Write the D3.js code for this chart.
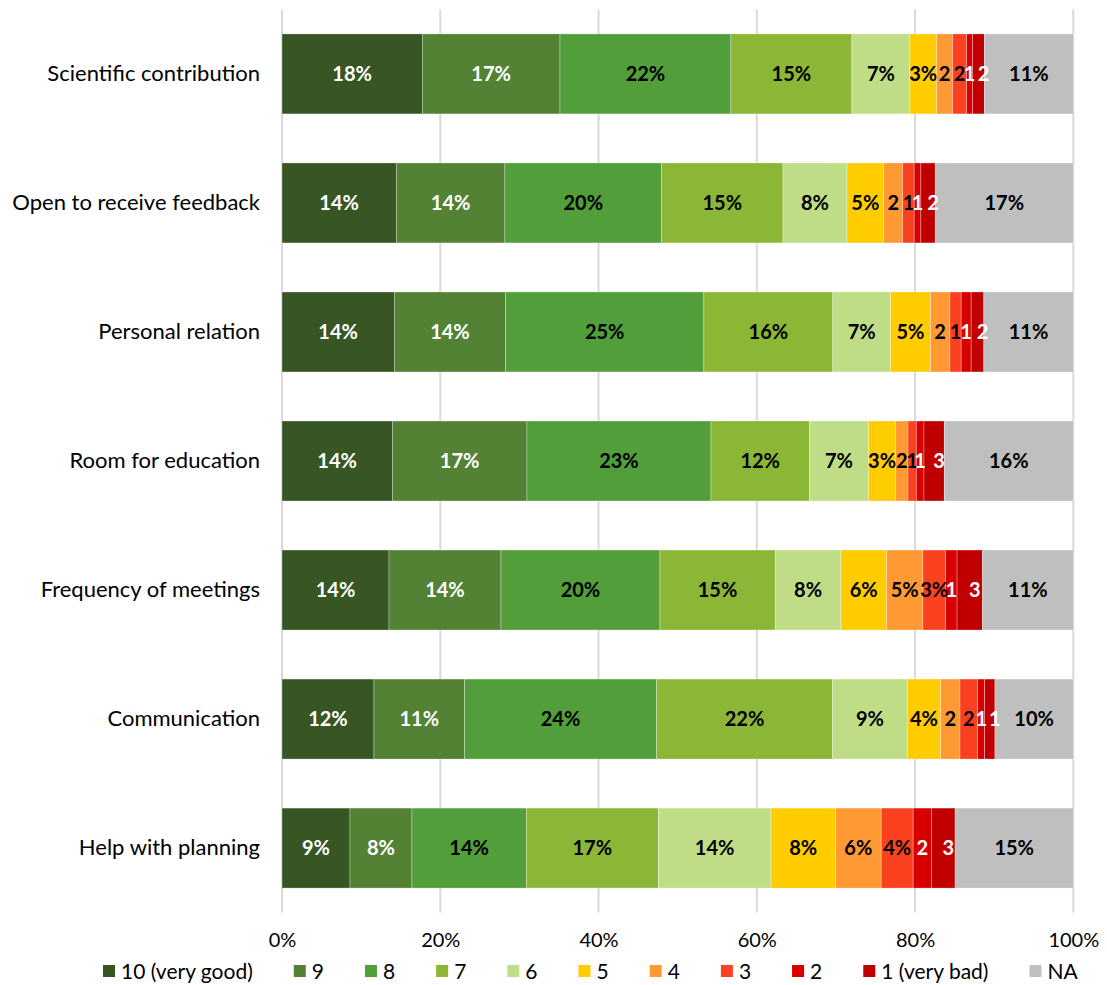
<!DOCTYPE html>
<html>
<head>
<meta charset="utf-8">
<script src="https://cdn.jsdelivr.net/npm/d3@7"></script>
<style>
  html, body { margin: 0; padding: 0; background: #fff; }
  svg { display: block; font-family: "Lato", "Open Sans", sans-serif; }
</style>
</head>
<body>
<svg id="chart" width="1107" height="985"></svg>
<script>
// Supervision survey: share of answers per rating, per aspect (percent)
const categories = [
  "Scientific contribution",
  "Open to receive feedback",
  "Personal relation",
  "Room for education",
  "Frequency of meetings",
  "Communication",
  "Help with planning"
];

const ratings = ["10 (very good)", "9", "8", "7", "6", "5", "4", "3", "2", "1 (very bad)", "NA"];

const r10 = [17.73, 14.44, 14.19, 13.94, 13.52, 11.62, 8.59];
const r9  = [17.40, 13.73, 14.07, 17.02, 14.15, 11.45, 7.83];
const r8  = [21.60, 19.81, 25.05, 23.25, 20.09, 24.26, 14.45];
const r7  = [15.29, 15.33, 16.30, 12.45, 14.57, 22.24, 16.68];
const r6  = [7.33, 8.09, 7.29, 7.45, 8.30, 9.45, 14.24];
const r5  = [3.37, 4.64, 5.05, 3.45, 5.77, 4.22, 8.16];
const r4  = [2.02, 2.40, 2.45, 1.55, 4.59, 2.44, 5.77];
const r3  = [1.77, 1.45, 1.43, 1.05, 2.87, 2.24, 4.04];
const r2  = [0.76, 0.85, 1.26, 0.97, 1.45, 0.88, 2.31];
const r1  = [1.50, 1.81, 1.60, 2.56, 3.21, 1.30, 2.99];
const rNA = [11.23, 17.45, 11.31, 16.31, 11.48, 9.90, 14.94];

const xTicks = [0, 20, 40, 60, 80, 100];

const colors = ["#375623", "#548235", "#529e3a", "#8cb635", "#bfdd87",
                "#ffcc00", "#ff9933", "#fa4120", "#d70000", "#c00000", "#bfbfbf"];
// the two lowest ratings get white labels, shown without the % sign
const whiteLabel = new Set(["10 (very good)", "9", "2", "1 (very bad)"]);
const plainLabel = new Set(["2", "1 (very bad)"]);

const seriesValues = [r10, r9, r8, r7, r6, r5, r4, r3, r2, r1, rNA];
const rows = categories.map((c, i) => {
  const row = { category: c };
  ratings.forEach((r, k) => { row[r] = seriesValues[k][i]; });
  return row;
});

const svg = d3.select("#chart");
const plot = { left: 282, right: 1073.3, top: 9.4, bottom: 912.6 };

const x = d3.scaleLinear().domain([0, 100]).range([plot.left, plot.right]);
const y = d3.scaleBand().domain(categories).range([plot.top, plot.bottom])
  .paddingInner(0.38).paddingOuter(0.19);

// vertical gridlines
svg.append("g").selectAll("line").data(xTicks).join("line")
  .attr("x1", d => x(d)).attr("x2", d => x(d))
  .attr("y1", plot.top).attr("y2", plot.bottom)
  .attr("stroke", "#d9d9d9").attr("stroke-width", 2);

const stacked = d3.stack().keys(ratings)(rows);

const layers = svg.append("g").selectAll("g").data(stacked).join("g")
  .attr("fill", (d, i) => colors[i]);

layers.selectAll("rect").data(d => d).join("rect")
  .attr("x", d => x(d[0]))
  .attr("width", d => x(d[1]) - x(d[0]))
  .attr("y", d => y(d.data.category))
  .attr("height", y.bandwidth())
  .attr("stroke", "#ffffff").attr("stroke-width", 0.6).attr("stroke-opacity", 0.5);

// value labels: narrow segments only show the number
const labelFmt = (key, v) =>
  Math.round(v) + (!plainLabel.has(key) && v >= 2.7 ? "%" : "");
const labels = svg.append("g").attr("font-weight", 700).attr("font-size", 20)
  .attr("text-anchor", "middle");
stacked.forEach(layer => {
  labels.selectAll(null).data(layer).join("text")
    .attr("x", d => (x(d[0]) + x(d[1])) / 2)
    .attr("y", d => y(d.data.category) + y.bandwidth() / 2)
    .attr("dx", layer.key === "1 (very bad)" ? 5 : 0)
    .attr("dy", "0.36em")
    .attr("fill", whiteLabel.has(layer.key) ? "#ffffff" : "#000000")
    .text(d => labelFmt(layer.key, d[1] - d[0]));
});

// category axis
const yAxis = svg.append("g").attr("transform", `translate(${plot.left},0)`)
  .call(d3.axisLeft(y).tickSize(0).tickPadding(22));
yAxis.select(".domain").remove();
yAxis.selectAll("text").attr("font-size", 22).attr("font-family", "Lato, sans-serif")
  .attr("fill", "#000");

// percentage axis
const xAxis = svg.append("g").attr("transform", `translate(0,${plot.bottom})`)
  .call(d3.axisBottom(x).tickValues(xTicks).tickSize(0).tickPadding(20)
    .tickFormat(d => d + "%"));
xAxis.select(".domain").remove();
xAxis.selectAll("text").attr("font-size", 20).attr("font-family", "Lato, sans-serif")
  .attr("fill", "#000");

// legend
const legend = svg.append("g").attr("font-size", 21).attr("fill", "#000");
let lx = 103;
const ly = 971;
ratings.forEach((r, i) => {
  const g = legend.append("g");
  g.append("rect").attr("x", lx).attr("y", ly - 6).attr("width", 12).attr("height", 12)
    .attr("fill", colors[i]);
  const t = g.append("text").attr("x", lx + 18).attr("y", ly).attr("dy", "0.36em").text(r);
  lx += 18 + t.node().getComputedTextLength() + 41;
});
</script>
</body>
</html>
